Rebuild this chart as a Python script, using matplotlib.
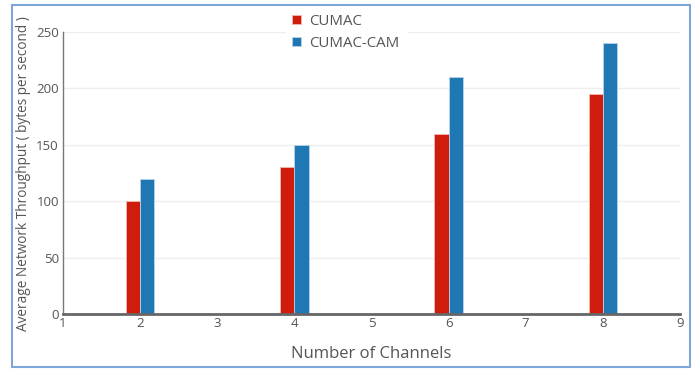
import matplotlib
matplotlib.use("Agg")
import matplotlib.pyplot as plt
from matplotlib.patches import Rectangle

channels = [2, 4, 6, 8]
cumac = [100, 130, 160, 195]
cumac_cam = [120, 150, 210, 240]
series_names = ["CUMAC", "CUMAC-CAM"]
xticks = [1, 2, 3, 4, 5, 6, 7, 8, 9]
yticks = [0, 50, 100, 150, 200, 250]

plt.rcParams['font.family'] = ['Open Sans', 'DejaVu Sans']
grey = '#555555'

fig = plt.figure(figsize=(6.96, 3.71), dpi=100)
ax = fig.add_axes([63/696, (371-314)/371, (680-63)/696, (314-32)/371])

w = 0.185
ax.bar([c - w/2 for c in channels], cumac, width=w, color='#d01c0c',
       edgecolor='#f4b8b0', linewidth=0.6, label=series_names[0], zorder=3)
ax.bar([c + w/2 for c in channels], cumac_cam, width=w, color='#1f77b4',
       edgecolor='#b8d4ea', linewidth=0.6, label=series_names[1], zorder=3)

ax.set_xlim(1, 9)
ax.set_ylim(0, 250)
ax.set_xticks(xticks)
ax.set_yticks(yticks)
ax.grid(axis='y', color='#eeeeee', linewidth=1, zorder=0)
for s in ['top', 'right', 'bottom']:
    ax.spines[s].set_visible(False)
ax.spines['left'].set_color('#777777')
ax.spines['left'].set_linewidth(1)
ax.axhline(0, color='#666666', linewidth=2, zorder=4, clip_on=False)
ax.tick_params(axis='both', length=0, colors=grey, labelsize=9.5, pad=2)
ax.tick_params(axis='y', pad=3)

ax.set_xlabel("Number of Channels", fontsize=12, color=grey, labelpad=12)
fig.text(24/696, 1 - 174/371, "Average Network Throughput ( bytes per second )",
         rotation=90, ha='center', va='center', fontsize=9.8, color=grey)

leg = ax.legend(loc='upper left', bbox_to_anchor=(278/696, 1.0), bbox_transform=fig.transFigure,
                frameon=True, fontsize=10.8, handlelength=0.55, handleheight=0.55,
                handletextpad=0.6, labelspacing=0.45, borderpad=0.45, labelcolor=grey)
leg.get_frame().set_edgecolor('white')
leg.get_frame().set_facecolor('white')
leg.get_frame().set_alpha(1)

fig.patches.append(Rectangle((12/696, (371-367)/371), (690-12)/696, (367-5)/371,
                             transform=fig.transFigure, fill=False,
                             edgecolor='#7ea6d8', linewidth=1.5, zorder=10))

fig.savefig("out.png", dpi=100)
